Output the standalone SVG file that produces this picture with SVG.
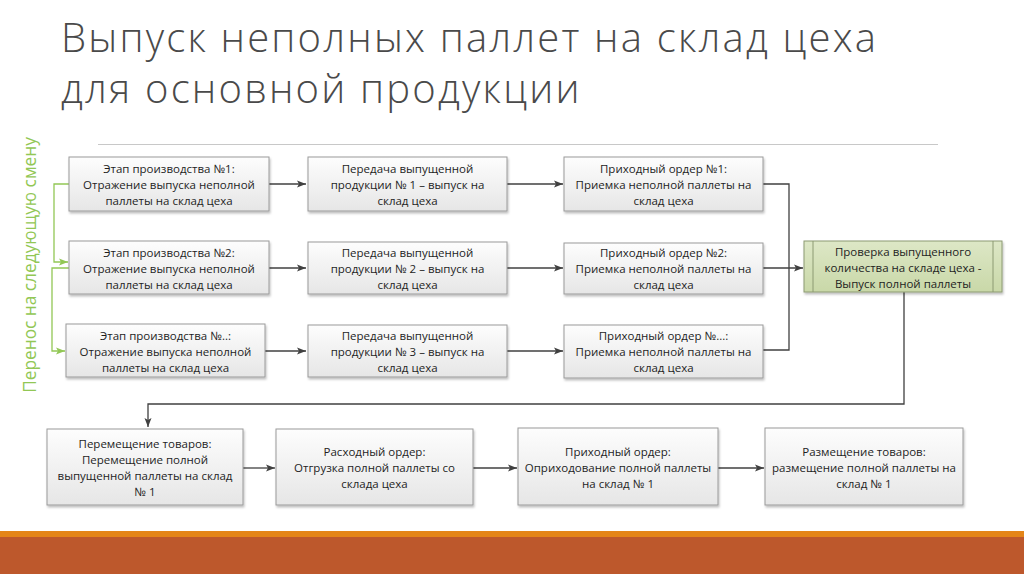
<svg xmlns="http://www.w3.org/2000/svg" width="1024" height="574" viewBox="0 0 1024 574">
<defs>
<linearGradient id="gGray" x1="0" y1="0" x2="0" y2="1">
<stop offset="0" stop-color="#fdfdfd"/>
<stop offset="1" stop-color="#e6e6e6"/>
</linearGradient>
<linearGradient id="gGreen" x1="0" y1="0" x2="0" y2="1">
<stop offset="0" stop-color="#dde7c6"/>
<stop offset="1" stop-color="#c9d8a8"/>
</linearGradient>
<filter id="sh" x="-10%" y="-10%" width="130%" height="140%">
<feDropShadow dx="1" dy="2" stdDeviation="1.2" flood-color="#000" flood-opacity="0.25"/>
</filter>
<marker id="ar" markerWidth="10" markerHeight="8" refX="9" refY="4" orient="auto" markerUnits="userSpaceOnUse">
<path d="M0,0.5 L9,4 L0,7.5 L2,4 Z" fill="#404040"/>
</marker>
<marker id="arG" markerWidth="10" markerHeight="8" refX="9" refY="4" orient="auto" markerUnits="userSpaceOnUse">
<path d="M0,0.5 L9,4 L0,7.5 L2,4 Z" fill="#92c755"/>
</marker>
</defs>
<style>
.box{fill:url(#gGray);stroke:#9a9a9a;stroke-width:1;filter:url(#sh)}
.gbox{fill:url(#gGreen);stroke:#8c9a72;stroke-width:1;filter:url(#sh)}
.t{font-family:"Open Sans","Noto Sans",sans-serif;font-size:11.5px;fill:#1e1e1e;text-anchor:middle}
.title{font-family:"Open Sans","Noto Sans",sans-serif;font-size:40px;font-weight:300;letter-spacing:2.2px;fill:#4a4a4a}
.c{fill:none;stroke:#404040;stroke-width:1.3}
.cg{fill:none;stroke:#92c755;stroke-width:1.3}
</style>
<rect width="1024" height="574" fill="#ffffff"/>
<g id="title">
<text class="title" x="61" y="52">Выпуск неполных паллет на склад цеха</text>
<text class="title" x="61" y="102.5">для основной продукции</text>
<line x1="98" y1="144.5" x2="938" y2="144.5" stroke="#c8c8c8" stroke-width="1"/>
</g>
<g id="side-label">
<text x="36" y="265" transform="rotate(-90 36 265)" font-family="'Open Sans','Noto Sans',sans-serif" font-size="17.3px" fill="#92c755" text-anchor="middle">Перенос на следующую смену</text>
</g>
<g id="connectors">
<path class="c" d="M269,184 H306" marker-end="url(#ar)"/>
<path class="c" d="M269,268 H306" marker-end="url(#ar)"/>
<path class="c" d="M265,351 H306" marker-end="url(#ar)"/>
<path class="c" d="M507,184 H563" marker-end="url(#ar)"/>
<path class="c" d="M507,268 H563" marker-end="url(#ar)"/>
<path class="c" d="M507,351 H563" marker-end="url(#ar)"/>
<path class="c" d="M763,184 H789 V350 H763"/>
<path class="c" d="M763,268 H803" marker-end="url(#ar)"/>
<path class="c" d="M904,292 V404 H148 V427" marker-end="url(#ar)"/>
<path class="c" d="M243,468 H275" marker-end="url(#ar)"/>
<path class="c" d="M473,468 H517" marker-end="url(#ar)"/>
<path class="c" d="M718,468 H764" marker-end="url(#ar)"/>
<path class="cg" d="M69,184 H54 V262 H68" marker-end="url(#arG)"/>
<path class="cg" d="M69,268 H52 V351 H65" marker-end="url(#arG)"/>
</g>
<g id="n1">
<rect class="box" x="69" y="157" width="200" height="54"/>
<text class="t"><tspan x="169" y="173">Этап производства №1:</tspan><tspan x="169" y="189">Отражение выпуска неполной</tspan><tspan x="169" y="205">паллеты на склад цеха</tspan></text>
</g>
<g id="n2">
<rect class="box" x="69" y="241" width="200" height="53"/>
<text class="t"><tspan x="169" y="257">Этап производства №2:</tspan><tspan x="169" y="273">Отражение выпуска неполной</tspan><tspan x="169" y="289">паллеты на склад цеха</tspan></text>
</g>
<g id="n3">
<rect class="box" x="66" y="324" width="199" height="53"/>
<text class="t"><tspan x="165.5" y="340">Этап производства №..:</tspan><tspan x="165.5" y="356">Отражение выпуска неполной</tspan><tspan x="165.5" y="372">паллеты на склад цеха</tspan></text>
</g>
<g id="n4">
<rect class="box" x="308" y="157" width="199" height="54"/>
<text class="t"><tspan x="407.5" y="173">Передача выпущенной</tspan><tspan x="407.5" y="189">продукции № 1 – выпуск на</tspan><tspan x="407.5" y="205">склад цеха</tspan></text>
</g>
<g id="n5">
<rect class="box" x="308" y="242" width="199" height="52"/>
<text class="t"><tspan x="407.5" y="257">Передача выпущенной</tspan><tspan x="407.5" y="273">продукции № 2 – выпуск на</tspan><tspan x="407.5" y="289">склад цеха</tspan></text>
</g>
<g id="n6">
<rect class="box" x="308" y="325" width="199" height="52"/>
<text class="t"><tspan x="407.5" y="340">Передача выпущенной</tspan><tspan x="407.5" y="356">продукции № 3 – выпуск на</tspan><tspan x="407.5" y="372">склад цеха</tspan></text>
</g>
<g id="n7">
<rect class="box" x="564" y="157" width="199" height="54"/>
<text class="t"><tspan x="663.5" y="173">Приходный ордер №1:</tspan><tspan x="663.5" y="189">Приемка неполной паллеты на</tspan><tspan x="663.5" y="205">склад цеха</tspan></text>
</g>
<g id="n8">
<rect class="box" x="564" y="243" width="199" height="51"/>
<text class="t"><tspan x="663.5" y="257">Приходный ордер №2:</tspan><tspan x="663.5" y="273">Приемка неполной паллеты на</tspan><tspan x="663.5" y="289">склад цеха</tspan></text>
</g>
<g id="n9">
<rect class="box" x="564" y="325" width="199" height="53"/>
<text class="t"><tspan x="663.5" y="340">Приходный ордер №...:</tspan><tspan x="663.5" y="356">Приемка неполной паллеты на</tspan><tspan x="663.5" y="372">склад цеха</tspan></text>
</g>
<g id="n10">
<rect class="gbox" x="804" y="241" width="198" height="51"/>
<line x1="813" y1="241" x2="813" y2="292" stroke="#8c9a72" stroke-width="1"/>
<line x1="993" y1="241" x2="993" y2="292" stroke="#8c9a72" stroke-width="1"/>
<text class="t"><tspan x="903" y="256">Проверка выпущенного</tspan><tspan x="903" y="272">количества на складе цеха -</tspan><tspan x="903" y="288">Выпуск полной паллеты</tspan></text>
</g>
<g id="n11">
<rect class="box" x="47" y="429" width="196" height="76"/>
<text class="t"><tspan x="145" y="448">Перемещение товаров:</tspan><tspan x="145" y="464">Перемещение полной</tspan><tspan x="145" y="480">выпущенной паллеты на склад</tspan><tspan x="145" y="496">№ 1</tspan></text>
</g>
<g id="n12">
<rect class="box" x="276" y="429" width="197" height="76"/>
<text class="t"><tspan x="374.5" y="456">Расходный ордер:</tspan><tspan x="374.5" y="472">Отгрузка полной паллеты со</tspan><tspan x="374.5" y="488">склада цеха</tspan></text>
</g>
<g id="n13">
<rect class="box" x="518" y="428" width="200" height="77"/>
<text class="t"><tspan x="618" y="456">Приходный ордер:</tspan><tspan x="618" y="472">Оприходование полной паллеты</tspan><tspan x="618" y="488">на склад № 1</tspan></text>
</g>
<g id="n14">
<rect class="box" x="765" y="428" width="198" height="77"/>
<text class="t"><tspan x="864" y="456">Размещение товаров:</tspan><tspan x="864" y="472">размещение полной паллеты на</tspan><tspan x="864" y="488">склад № 1</tspan></text>
</g>
<g id="footer">
<rect x="0" y="531" width="1024" height="6" fill="#e48518"/>
<rect x="0" y="537" width="1024" height="37" fill="#bd582c"/>
</g>
</svg>
